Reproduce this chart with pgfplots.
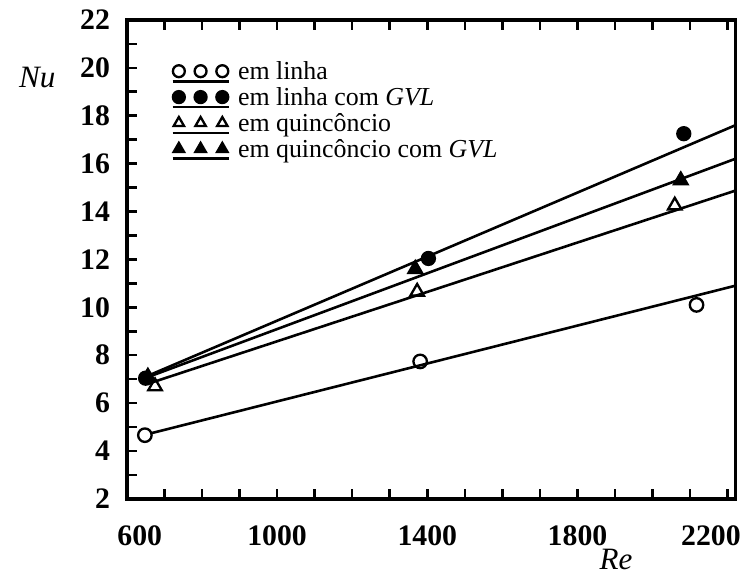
\documentclass[border=0pt]{standalone}
\usepackage{fontspec}
\setmainfont{Liberation Serif}
\usepackage{pgfplots}
\pgfplotsset{compat=1.18}

\pgfplotsset{
  triplemark/.style={legend image code/.code={
    \draw[mark size=2.3pt] plot[only marks] coordinates {(0.085cm,0.2mm) (0.38cm,0.2mm) (0.675cm,0.2mm)};
    \draw[line width=1.1pt] (0cm,-1.15mm) -- (0.76cm,-1.15mm);
    \path (0.86cm,0);
  }},
}

\begin{document}
\begin{tikzpicture}
\begin{axis}[
  scale only axis, width=235pt, height=185pt,
  xmin=600, xmax=2220, ymin=2, ymax=22,
  xtick={600,1000,1400,1800,2200}, minor x tick num=3,
  xticklabels={\hspace*{10pt}600,1000,1400,1800,2200\hspace*{13pt}},
  ytick={2,4,...,22}, minor y tick num=1,
  tick align=inside, major tick length=4pt, minor tick length=4pt,
  xtick pos=both, ytick pos=left, xticklabel pos=lower,
  axis line style={line width=1.3pt},
  every tick/.style={black, line width=1pt},
  ticklabel style={font=\bfseries\fontsize{11.5}{12}\selectfont},
  /pgf/number format/assume math mode=true,
  /pgf/number format/1000 sep={},
  yticklabel style={xshift=-3pt},
  xticklabel style={yshift=-7pt},
  legend style={at={(rel axis cs:0.072,0.918)}, anchor=north west,
    draw=none, fill=none, inner sep=0pt, row sep=0pt,
    font=\fontsize{10}{11}\selectfont,
    nodes={inner sep=0.6pt, text height=7pt, text depth=1.8pt}},
  legend cell align=left,
]
% fitted lines
\addplot[black, line width=1pt, forget plot] coordinates {(667,4.75) (2220,10.9)};
\addplot[black, line width=1pt, forget plot] coordinates {(650,7.1) (2220,17.6)};
\addplot[black, line width=1pt, forget plot] coordinates {(655,6.8) (2220,14.87)};
\addplot[black, line width=1pt, forget plot] coordinates {(650,7.05) (2220,16.2)};

% measured points
\addplot[only marks, mark=o, mark size=2.6pt, mark options={line width=0.9pt, fill=white}, triplemark]
  coordinates {(648,4.66) (1381,7.74) (2117,10.1)};
\addlegendentry{em linha}
\addplot[only marks, mark=*, mark size=2.5pt, mark options={line width=0.9pt, fill=black}, triplemark]
  coordinates {(650,7.04) (1403,12.04) (2083,17.25)};
\addlegendentry{em linha com \textit{GVL}}
\addplot[only marks, mark=triangle, mark size=3pt, mark options={line width=0.9pt, fill=white}, triplemark]
  coordinates {(675,6.7) (1373,10.65) (2059,14.25)};
\addlegendentry{em quincôncio}
\addplot[only marks, mark=triangle*, mark size=3pt, mark options={line width=0.9pt, fill=black}, triplemark]
  coordinates {(656,7.1) (1368,11.6) (2075,15.3)};
\addlegendentry{em quincôncio com \textit{GVL}}

\coordinate (ll) at (rel axis cs:0,0);
\coordinate (ur) at (rel axis cs:1,1);
\coordinate (nu) at (rel axis cs:0,0.88);
\coordinate (re) at (rel axis cs:0.804,0);
\end{axis}
\node[font=\itshape\fontsize{12}{14}\selectfont] at ([xshift=-34.6pt]nu) {Nu};
\node[font=\itshape\fontsize{12}{14}\selectfont] at ([yshift=-23.5pt]re) {Re};
\pgfresetboundingbox
\path ([xshift=-49pt,yshift=-30pt]ll) rectangle ([xshift=3pt,yshift=7.7pt]ur);
\end{tikzpicture}
\end{document}
